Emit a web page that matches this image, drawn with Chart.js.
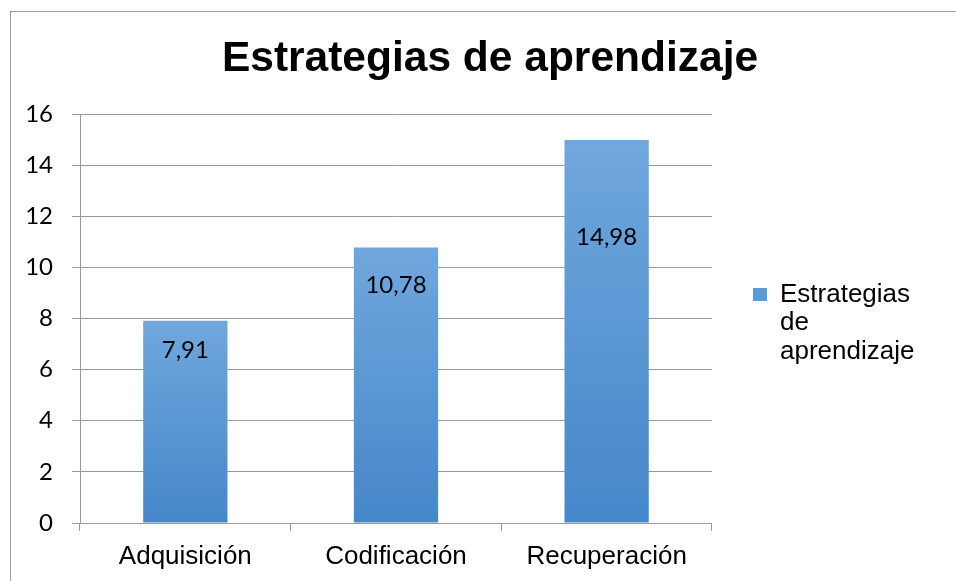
<!DOCTYPE html>
<html>
<head>
<meta charset="utf-8">
<script src="https://cdn.jsdelivr.net/npm/chart.js@4/dist/chart.umd.min.js"></script>
<style>
  body { margin: 0; background: #fff; }
  #frame { position: absolute; left: 10px; top: 11px; width: 980px; height: 620px; border: 1px solid #9a9a9a; }
  #c { position: absolute; left: 0; top: 0; }
</style>
</head>
<body>
<div id="frame"></div>
<canvas id="c" width="956" height="581"></canvas>
<script>
const categories  = ['Adquisición', 'Codificación', 'Recuperación'];
const values      = [7.91, 10.78, 14.98];
const valueLabels = ['7,91', '10,78', '14,98'];
const seriesName  = ['Estrategias', 'de', 'aprendizaje'];
const titleText   = 'Estrategias de aprendizaje';

// per-bar vertical gradient, light on top
function barFill(ctx) {
  const chart = ctx.chart;
  const y = chart.scales.y;
  if (!y || ctx.parsed == null) return '#5b9bd5';
  const top = y.getPixelForValue(ctx.parsed.y);
  const base = y.getPixelForValue(0);
  const g = chart.ctx.createLinearGradient(0, top, 0, base);
  g.addColorStop(0, '#70a7dd');
  g.addColorStop(1, '#4587c9');
  return g;
}

// value text inside the bars
const valueText = {
  id: 'valueText',
  afterDatasetsDraw(chart, args, opts) {
    const { ctx } = chart;
    const meta = chart.getDatasetMeta(0);
    ctx.save();
    ctx.font = opts.font;
    ctx.fillStyle = '#000';
    ctx.textAlign = 'center';
    ctx.textBaseline = 'middle';
    meta.data.forEach((bar, i) => {
      ctx.fillText(valueLabels[i], bar.x, bar.y + opts.offsets[i]);
    });
    ctx.restore();
  }
};

// title sits off-centre (centred over plot + legend), so draw it here
const sheetTitle = {
  id: 'sheetTitle',
  afterDraw(chart, args, opts) {
    const { ctx } = chart;
    ctx.save();
    ctx.font = opts.font;
    ctx.fillStyle = '#000';
    ctx.textAlign = 'center';
    ctx.textBaseline = 'alphabetic';
    ctx.fillText(titleText, opts.x, opts.y);
    ctx.restore();
  }
};

const chart = new Chart(document.getElementById('c'), {
  type: 'bar',
  data: {
    labels: categories,
    datasets: [{
      label: seriesName,
      data: values,
      backgroundColor: barFill,
      borderWidth: 0,
      barPercentage: 0.40,
      categoryPercentage: 1,
    }]
  },
  options: {
    responsive: false,
    animation: false,
    devicePixelRatio: 1,
    layout: { padding: { left: 0, right: 31.6, top: 114, bottom: 0 } },
    plugins: {
      title: { display: false },
      sheetTitle: { font: 'bold 42.5px Arial, "Liberation Sans"', x: 490, y: 71 },
      legend: {
        position: 'right',
        fullSize: false,
        title: { display: true, text: '', font: { size: 12, lineHeight: 1 }, padding: 0 },
        labels: {
          boxWidth: 14,
          boxHeight: 13,
          padding: 41,
          color: '#000',
          font: { family: 'Arial, "Liberation Sans"', size: 26, lineHeight: 1.1 },
          generateLabels: ch => [{
            text: ch.data.datasets[0].label,
            fillStyle: '#5b9bd5',
            strokeStyle: '#5b9bd5',
            fontColor: '#000',
            lineWidth: 0,
            datasetIndex: 0,
          }],
        },
      },
      tooltip: { enabled: false },
      valueText: { font: '24px Lato', offsets: [29, 38, 97] },
    },
    scales: {
      x: {
        afterFit: s => { s.height = 58; },
        grid: { offset: true, drawOnChartArea: false, color: '#9a9a9a', tickLength: 8 },
        border: { color: '#9a9a9a' },
        ticks: { color: '#000', padding: 10, font: { family: 'Arial, "Liberation Sans"', size: 26 } },
      },
      y: {
        min: 0,
        max: 16,
        afterFit: s => { s.width = 80; },
        grid: { color: '#9a9a9a', tickLength: 8 },
        border: { color: '#9a9a9a' },
        ticks: { stepSize: 2, color: '#000', padding: 19, font: { family: 'Lato', size: 24 } },
      },
    },
  },
  plugins: [valueText, sheetTitle],
});
</script>
</body>
</html>
